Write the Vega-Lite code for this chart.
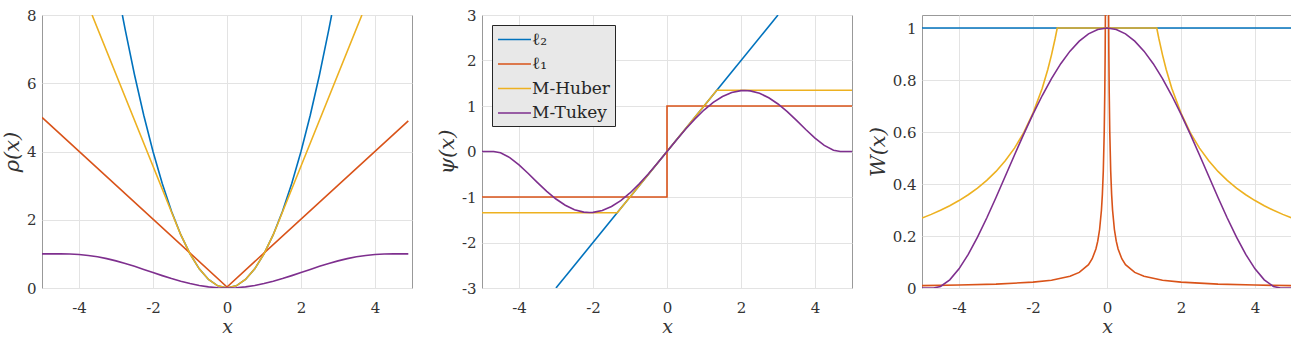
{
"$schema": "https://vega.github.io/schema/vega-lite/v6.json",
"padding": {"left": 0, "top": 7, "right": 0, "bottom": 0},
"autosize": {"type": "pad"},
"bounds": "flush",
"spacing": 70,
"resolve": {"scale": {"color": "independent"}, "legend": {"color": "independent"}},
"config": {
  "font": "DejaVu Serif",
  "view": {"stroke": "#999999", "strokeWidth": 1},
  "axis": {"grid": true, "gridColor": "#e3e3e3", "gridWidth": 1, "domain": false, "ticks": false,
    "labelFont": "DejaVu Serif", "labelFontSize": 15, "labelColor": "#333333", "labelPadding": 6,
    "labelFlush": false, "labelOverlap": false,
    "titleFont": "DejaVu Serif", "titleFontStyle": "italic", "titleFontWeight": "normal", "titleFontSize": 21, "titleColor": "#333333"},
  "axisX": {"labelPadding": 12, "titlePadding": 2, "titleFontSize": 19},
  "axisY": {"titlePadding": 4},
  "legend": {"orient": "top-left", "offset": 10, "title": null, "fillColor": "#e8e8e8", "strokeColor": "#262626",
    "padding": 5, "symbolType": "M-2,0L2,0", "symbolSize": 272, "symbolStrokeWidth": 1.6, "symbolOffset": 8, "symbolFillColor": "transparent",
    "labelFont": "DejaVu Serif", "labelFontSize": 17, "labelColor": "#262626", "labelOffset": 8, "rowPadding": 6.5}
},
"datasets": {
"rho": [
{"s":"ℓ₂","x":-2.828,"y":8},{"s":"ℓ₂","x":-2.75,"y":7.5625},{"s":"ℓ₂","x":-2.5,"y":6.25},{"s":"ℓ₂","x":-2.25,"y":5.0625},{"s":"ℓ₂","x":-2,"y":4},{"s":"ℓ₂","x":-1.75,"y":3.0625},{"s":"ℓ₂","x":-1.5,"y":2.25},{"s":"ℓ₂","x":-1.25,"y":1.5625},{"s":"ℓ₂","x":-1,"y":1},{"s":"ℓ₂","x":-0.75,"y":0.5625},{"s":"ℓ₂","x":-0.5,"y":0.25},{"s":"ℓ₂","x":-0.25,"y":0.0625},{"s":"ℓ₂","x":0,"y":0},{"s":"ℓ₂","x":0.25,"y":0.0625},{"s":"ℓ₂","x":0.5,"y":0.25},{"s":"ℓ₂","x":0.75,"y":0.5625},{"s":"ℓ₂","x":1,"y":1},{"s":"ℓ₂","x":1.25,"y":1.5625},{"s":"ℓ₂","x":1.5,"y":2.25},{"s":"ℓ₂","x":1.75,"y":3.0625},{"s":"ℓ₂","x":2,"y":4},{"s":"ℓ₂","x":2.25,"y":5.0625},{"s":"ℓ₂","x":2.5,"y":6.25},{"s":"ℓ₂","x":2.75,"y":7.5625},{"s":"ℓ₂","x":2.828,"y":8},
{"s":"ℓ₁","x":-5,"y":5},{"s":"ℓ₁","x":0,"y":0.03},{"s":"ℓ₁","x":4.9,"y":4.9},
{"s":"M-Huber","x":-3.6465,"y":8},{"s":"M-Huber","x":-1.345,"y":1.809},{"s":"M-Huber","x":-1.25,"y":1.5625},{"s":"M-Huber","x":-1,"y":1},{"s":"M-Huber","x":-0.75,"y":0.5625},{"s":"M-Huber","x":-0.5,"y":0.25},{"s":"M-Huber","x":-0.25,"y":0.0625},{"s":"M-Huber","x":0,"y":0},{"s":"M-Huber","x":0.25,"y":0.0625},{"s":"M-Huber","x":0.5,"y":0.25},{"s":"M-Huber","x":0.75,"y":0.5625},{"s":"M-Huber","x":1,"y":1},{"s":"M-Huber","x":1.25,"y":1.5625},{"s":"M-Huber","x":1.345,"y":1.809},{"s":"M-Huber","x":3.6465,"y":8},
{"s":"M-Tukey","x":-5,"y":1},{"s":"M-Tukey","x":-4.685,"y":1},{"s":"M-Tukey","x":-4.5,"y":0.9995},{"s":"M-Tukey","x":-4.25,"y":0.9944},{"s":"M-Tukey","x":-4,"y":0.9801},{"s":"M-Tukey","x":-3.75,"y":0.9536},{"s":"M-Tukey","x":-3.5,"y":0.9137},{"s":"M-Tukey","x":-3.25,"y":0.8604},{"s":"M-Tukey","x":-3,"y":0.7947},{"s":"M-Tukey","x":-2.75,"y":0.7184},{"s":"M-Tukey","x":-2.5,"y":0.6341},{"s":"M-Tukey","x":-2.25,"y":0.5446},{"s":"M-Tukey","x":-2,"y":0.4531},{"s":"M-Tukey","x":-1.75,"y":0.3629},{"s":"M-Tukey","x":-1.5,"y":0.2771},{"s":"M-Tukey","x":-1.25,"y":0.1987},{"s":"M-Tukey","x":-1,"y":0.1305},{"s":"M-Tukey","x":-0.75,"y":0.0749},{"s":"M-Tukey","x":-0.5,"y":0.0338},{"s":"M-Tukey","x":-0.25,"y":0.0085},{"s":"M-Tukey","x":0,"y":0},{"s":"M-Tukey","x":0.25,"y":0.0085},{"s":"M-Tukey","x":0.5,"y":0.0338},{"s":"M-Tukey","x":0.75,"y":0.0749},{"s":"M-Tukey","x":1,"y":0.1305},{"s":"M-Tukey","x":1.25,"y":0.1987},{"s":"M-Tukey","x":1.5,"y":0.2771},{"s":"M-Tukey","x":1.75,"y":0.3629},{"s":"M-Tukey","x":2,"y":0.4531},{"s":"M-Tukey","x":2.25,"y":0.5446},{"s":"M-Tukey","x":2.5,"y":0.6341},{"s":"M-Tukey","x":2.75,"y":0.7184},{"s":"M-Tukey","x":3,"y":0.7947},{"s":"M-Tukey","x":3.25,"y":0.8604},{"s":"M-Tukey","x":3.5,"y":0.9137},{"s":"M-Tukey","x":3.75,"y":0.9536},{"s":"M-Tukey","x":4,"y":0.9801},{"s":"M-Tukey","x":4.25,"y":0.9944},{"s":"M-Tukey","x":4.5,"y":0.9995},{"s":"M-Tukey","x":4.685,"y":1},{"s":"M-Tukey","x":4.9,"y":1}
],
"psi": [
{"s":"ℓ₂","x":-3,"y":-3},{"s":"ℓ₂","x":3,"y":3},
{"s":"ℓ₁","x":-5,"y":-1},{"s":"ℓ₁","x":0,"y":-1},{"s":"ℓ₁","x":0,"y":1},{"s":"ℓ₁","x":5,"y":1},
{"s":"M-Huber","x":-5,"y":-1.345},{"s":"M-Huber","x":-1.345,"y":-1.345},{"s":"M-Huber","x":1.345,"y":1.345},{"s":"M-Huber","x":5,"y":1.345},
{"s":"M-Tukey","x":-5,"y":0},{"s":"M-Tukey","x":-4.685,"y":0},{"s":"M-Tukey","x":-4.5,"y":-0.027},{"s":"M-Tukey","x":-4.25,"y":-0.1332},{"s":"M-Tukey","x":-4,"y":-0.2938},{"s":"M-Tukey","x":-3.75,"y":-0.4841},{"s":"M-Tukey","x":-3.5,"y":-0.6834},{"s":"M-Tukey","x":-3.25,"y":-0.8746},{"s":"M-Tukey","x":-3,"y":-1.0441},{"s":"M-Tukey","x":-2.75,"y":-1.1814},{"s":"M-Tukey","x":-2.5,"y":-1.279},{"s":"M-Tukey","x":-2.25,"y":-1.3318},{"s":"M-Tukey","x":-2.1,"y":-1.3409},{"s":"M-Tukey","x":-2,"y":-1.3375},{"s":"M-Tukey","x":-1.75,"y":-1.2957},{"s":"M-Tukey","x":-1.5,"y":-1.2082},{"s":"M-Tukey","x":-1.25,"y":-1.0784},{"s":"M-Tukey","x":-1,"y":-0.911},{"s":"M-Tukey","x":-0.75,"y":-0.7121},{"s":"M-Tukey","x":-0.5,"y":-0.4887},{"s":"M-Tukey","x":-0.25,"y":-0.2486},{"s":"M-Tukey","x":0,"y":0},{"s":"M-Tukey","x":0.25,"y":0.2486},{"s":"M-Tukey","x":0.5,"y":0.4887},{"s":"M-Tukey","x":0.75,"y":0.7121},{"s":"M-Tukey","x":1,"y":0.911},{"s":"M-Tukey","x":1.25,"y":1.0784},{"s":"M-Tukey","x":1.5,"y":1.2082},{"s":"M-Tukey","x":1.75,"y":1.2957},{"s":"M-Tukey","x":2,"y":1.3375},{"s":"M-Tukey","x":2.1,"y":1.3409},{"s":"M-Tukey","x":2.25,"y":1.3318},{"s":"M-Tukey","x":2.5,"y":1.279},{"s":"M-Tukey","x":2.75,"y":1.1814},{"s":"M-Tukey","x":3,"y":1.0441},{"s":"M-Tukey","x":3.25,"y":0.8746},{"s":"M-Tukey","x":3.5,"y":0.6834},{"s":"M-Tukey","x":3.75,"y":0.4841},{"s":"M-Tukey","x":4,"y":0.2938},{"s":"M-Tukey","x":4.25,"y":0.1332},{"s":"M-Tukey","x":4.5,"y":0.027},{"s":"M-Tukey","x":4.685,"y":0},{"s":"M-Tukey","x":5,"y":0}
],
"w": [
{"s":"ℓ₂","x":-5,"y":1},{"s":"ℓ₂","x":5,"y":1},
{"s":"ℓ₁","x":-5,"y":0.009},{"s":"ℓ₁","x":-4,"y":0.0113},{"s":"ℓ₁","x":-3,"y":0.015},{"s":"ℓ₁","x":-2,"y":0.0225},{"s":"ℓ₁","x":-1.5,"y":0.03},{"s":"ℓ₁","x":-1,"y":0.045},{"s":"ℓ₁","x":-0.75,"y":0.06},{"s":"ℓ₁","x":-0.5,"y":0.09},{"s":"ℓ₁","x":-0.4,"y":0.1125},{"s":"ℓ₁","x":-0.3,"y":0.15},{"s":"ℓ₁","x":-0.25,"y":0.18},{"s":"ℓ₁","x":-0.2,"y":0.225},{"s":"ℓ₁","x":-0.15,"y":0.3},{"s":"ℓ₁","x":-0.125,"y":0.36},{"s":"ℓ₁","x":-0.1,"y":0.45},{"s":"ℓ₁","x":-0.075,"y":0.6},{"s":"ℓ₁","x":-0.06,"y":0.75},{"s":"ℓ₁","x":-0.05,"y":0.9},{"s":"ℓ₁","x":-0.04,"y":1.125},{"s":"ℓ₁","x":-0.02,"y":2.25},{"s":"ℓ₁","x":0.02,"y":2.25},{"s":"ℓ₁","x":0.04,"y":1.125},{"s":"ℓ₁","x":0.05,"y":0.9},{"s":"ℓ₁","x":0.06,"y":0.75},{"s":"ℓ₁","x":0.075,"y":0.6},{"s":"ℓ₁","x":0.1,"y":0.45},{"s":"ℓ₁","x":0.125,"y":0.36},{"s":"ℓ₁","x":0.15,"y":0.3},{"s":"ℓ₁","x":0.2,"y":0.225},{"s":"ℓ₁","x":0.25,"y":0.18},{"s":"ℓ₁","x":0.3,"y":0.15},{"s":"ℓ₁","x":0.4,"y":0.1125},{"s":"ℓ₁","x":0.5,"y":0.09},{"s":"ℓ₁","x":0.75,"y":0.06},{"s":"ℓ₁","x":1,"y":0.045},{"s":"ℓ₁","x":1.5,"y":0.03},{"s":"ℓ₁","x":2,"y":0.0225},{"s":"ℓ₁","x":3,"y":0.015},{"s":"ℓ₁","x":4,"y":0.0113},{"s":"ℓ₁","x":5,"y":0.009},
{"s":"M-Huber","x":-5,"y":0.269},{"s":"M-Huber","x":-4.75,"y":0.2832},{"s":"M-Huber","x":-4.5,"y":0.2989},{"s":"M-Huber","x":-4.25,"y":0.3165},{"s":"M-Huber","x":-4,"y":0.3363},{"s":"M-Huber","x":-3.75,"y":0.3587},{"s":"M-Huber","x":-3.5,"y":0.3843},{"s":"M-Huber","x":-3.25,"y":0.4138},{"s":"M-Huber","x":-3,"y":0.4483},{"s":"M-Huber","x":-2.75,"y":0.4891},{"s":"M-Huber","x":-2.5,"y":0.538},{"s":"M-Huber","x":-2.25,"y":0.5978},{"s":"M-Huber","x":-2,"y":0.6725},{"s":"M-Huber","x":-1.75,"y":0.7686},{"s":"M-Huber","x":-1.6,"y":0.8406},{"s":"M-Huber","x":-1.5,"y":0.8967},{"s":"M-Huber","x":-1.4,"y":0.9607},{"s":"M-Huber","x":-1.345,"y":1},{"s":"M-Huber","x":1.345,"y":1},{"s":"M-Huber","x":1.4,"y":0.9607},{"s":"M-Huber","x":1.5,"y":0.8967},{"s":"M-Huber","x":1.6,"y":0.8406},{"s":"M-Huber","x":1.75,"y":0.7686},{"s":"M-Huber","x":2,"y":0.6725},{"s":"M-Huber","x":2.25,"y":0.5978},{"s":"M-Huber","x":2.5,"y":0.538},{"s":"M-Huber","x":2.75,"y":0.4891},{"s":"M-Huber","x":3,"y":0.4483},{"s":"M-Huber","x":3.25,"y":0.4138},{"s":"M-Huber","x":3.5,"y":0.3843},{"s":"M-Huber","x":3.75,"y":0.3587},{"s":"M-Huber","x":4,"y":0.3363},{"s":"M-Huber","x":4.25,"y":0.3165},{"s":"M-Huber","x":4.5,"y":0.2989},{"s":"M-Huber","x":4.75,"y":0.2832},{"s":"M-Huber","x":5,"y":0.269},
{"s":"M-Tukey","x":-5,"y":0},{"s":"M-Tukey","x":-4.685,"y":0},{"s":"M-Tukey","x":-4.5,"y":0.006},{"s":"M-Tukey","x":-4.25,"y":0.0314},{"s":"M-Tukey","x":-4,"y":0.0735},{"s":"M-Tukey","x":-3.75,"y":0.1291},{"s":"M-Tukey","x":-3.5,"y":0.1953},{"s":"M-Tukey","x":-3.25,"y":0.2691},{"s":"M-Tukey","x":-3,"y":0.348},{"s":"M-Tukey","x":-2.75,"y":0.4296},{"s":"M-Tukey","x":-2.5,"y":0.5116},{"s":"M-Tukey","x":-2.25,"y":0.5919},{"s":"M-Tukey","x":-2,"y":0.6687},{"s":"M-Tukey","x":-1.75,"y":0.7404},{"s":"M-Tukey","x":-1.5,"y":0.8055},{"s":"M-Tukey","x":-1.25,"y":0.8627},{"s":"M-Tukey","x":-1,"y":0.911},{"s":"M-Tukey","x":-0.75,"y":0.9494},{"s":"M-Tukey","x":-0.5,"y":0.9774},{"s":"M-Tukey","x":-0.25,"y":0.9943},{"s":"M-Tukey","x":0,"y":1},{"s":"M-Tukey","x":0.25,"y":0.9943},{"s":"M-Tukey","x":0.5,"y":0.9774},{"s":"M-Tukey","x":0.75,"y":0.9494},{"s":"M-Tukey","x":1,"y":0.911},{"s":"M-Tukey","x":1.25,"y":0.8627},{"s":"M-Tukey","x":1.5,"y":0.8055},{"s":"M-Tukey","x":1.75,"y":0.7404},{"s":"M-Tukey","x":2,"y":0.6687},{"s":"M-Tukey","x":2.25,"y":0.5919},{"s":"M-Tukey","x":2.5,"y":0.5116},{"s":"M-Tukey","x":2.75,"y":0.4296},{"s":"M-Tukey","x":3,"y":0.348},{"s":"M-Tukey","x":3.25,"y":0.2691},{"s":"M-Tukey","x":3.5,"y":0.1953},{"s":"M-Tukey","x":3.75,"y":0.1291},{"s":"M-Tukey","x":4,"y":0.0735},{"s":"M-Tukey","x":4.25,"y":0.0314},{"s":"M-Tukey","x":4.5,"y":0.006},{"s":"M-Tukey","x":4.685,"y":0},{"s":"M-Tukey","x":5,"y":0}
]
},
"hconcat": [
{
 "width": 370, "height": 273,
 "data": {"name": "rho"},
 "mark": {"type": "line", "clip": true, "strokeWidth": 1.6},
 "encoding": {
  "x": {"field": "x", "type": "quantitative", "scale": {"domain": [-5, 5], "nice": false, "zero": false}, "axis": {"values": [-4, -2, 0, 2, 4], "labelExpr": "datum.value", "title": "x"}},
  "y": {"field": "y", "type": "quantitative", "scale": {"domain": [0, 8], "nice": false}, "axis": {"values": [0, 2, 4, 6, 8], "labelExpr": "datum.value", "title": "ρ(x)"}},
  "color": {"field": "s", "type": "nominal", "scale": {"domain": ["ℓ₂", "ℓ₁", "M-Huber", "M-Tukey"], "range": ["#0072BD", "#D95319", "#EDB120", "#7E2F8E"]}, "legend": null},
  "order": [{"field": "x", "type": "quantitative"}, {"field": "y", "type": "quantitative"}]
 }
},
{
 "width": 370, "height": 273,
 "data": {"name": "psi"},
 "mark": {"type": "line", "clip": true, "strokeWidth": 1.6},
 "encoding": {
  "x": {"field": "x", "type": "quantitative", "scale": {"domain": [-5, 5], "nice": false, "zero": false}, "axis": {"values": [-4, -2, 0, 2, 4], "labelExpr": "datum.value", "title": "x"}},
  "y": {"field": "y", "type": "quantitative", "scale": {"domain": [-3, 3], "nice": false}, "axis": {"values": [-3, -2, -1, 0, 1, 2, 3], "labelExpr": "datum.value", "title": "ψ(x)"}},
  "color": {"field": "s", "type": "nominal", "scale": {"domain": ["ℓ₂", "ℓ₁", "M-Huber", "M-Tukey"], "range": ["#0072BD", "#D95319", "#EDB120", "#7E2F8E"]}},
  "order": [{"field": "x", "type": "quantitative"}, {"field": "y", "type": "quantitative"}]
 }
},
{
 "width": 370, "height": 273,
 "data": {"name": "w"},
 "mark": {"type": "line", "clip": true, "strokeWidth": 1.6},
 "encoding": {
  "x": {"field": "x", "type": "quantitative", "scale": {"domain": [-5, 5], "nice": false, "zero": false}, "axis": {"values": [-4, -2, 0, 2, 4], "labelExpr": "datum.value", "title": "x"}},
  "y": {"field": "y", "type": "quantitative", "scale": {"domain": [0, 1.05], "nice": false}, "axis": {"values": [0, 0.2, 0.4, 0.6, 0.8, 1], "labelExpr": "datum.value", "title": "W(x)"}},
  "color": {"field": "s", "type": "nominal", "scale": {"domain": ["ℓ₂", "ℓ₁", "M-Huber", "M-Tukey"], "range": ["#0072BD", "#D95319", "#EDB120", "#7E2F8E"]}, "legend": null},
  "order": [{"field": "x", "type": "quantitative"}, {"field": "y", "type": "quantitative"}]
 }
}
]
}
